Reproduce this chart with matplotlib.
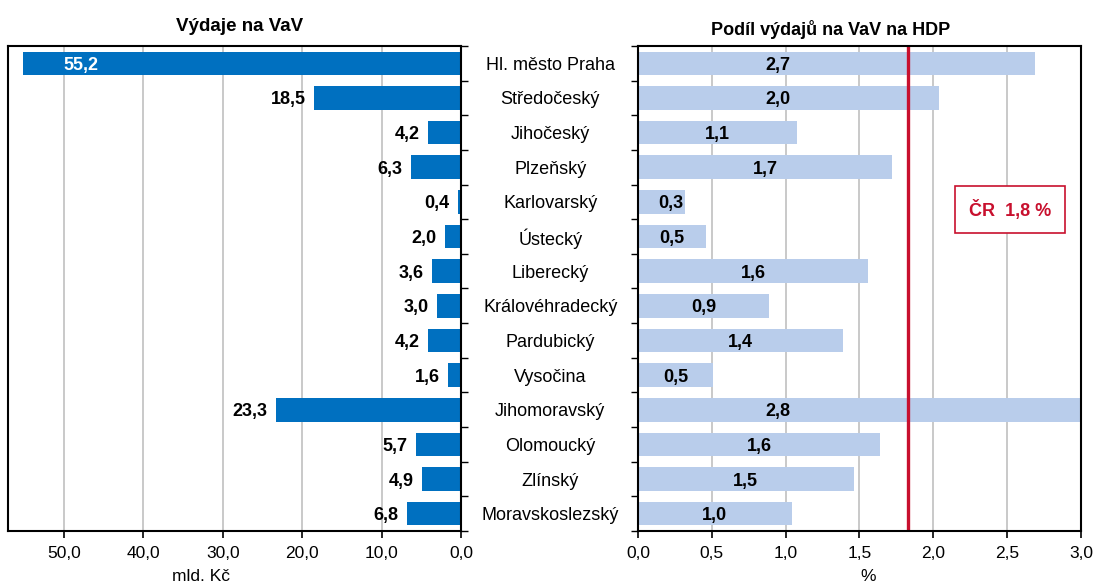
import numpy as np
import matplotlib.pyplot as plt

plt.rcParams['font.family'] = ['Liberation Sans', 'DejaVu Sans']

kraje = ['Hl. město Praha', 'Středočeský', 'Jihočeský', 'Plzeňský', 'Karlovarský',
         'Ústecký', 'Liberecký', 'Královéhradecký', 'Pardubický', 'Vysočina',
         'Jihomoravský', 'Olomoucký', 'Zlínský', 'Moravskoslezský']
vydaje = [55.2, 18.5, 4.2, 6.3, 0.4, 2.0, 3.6, 3.0, 4.2, 1.6, 23.3, 5.7, 4.9, 6.8]
podil = [2.69, 2.04, 1.08, 1.72, 0.32, 0.46, 1.56, 0.89, 1.39, 0.51, 2.99, 1.64, 1.46, 1.04]
podil_popisky = ['2,7', '2,0', '1,1', '1,7', '0,3', '0,5', '1,6', '0,9', '1,4', '0,5',
                 '2,8', '1,6', '1,5', '1,0']
cr_podil = 1.83

modra = '#0070C0'
svetla = '#B9CDEB'
cervena = '#C8102E'

fig = plt.figure(figsize=(10.96, 5.84), dpi=100)
ax1 = fig.add_axes([0.0073, 0.0908, 0.4133, 0.8304])
ax2 = fig.add_axes([0.5821, 0.0908, 0.4042, 0.8304])

y = np.arange(len(kraje))

# levy graf
ax1.barh(y, vydaje, height=0.68, color=modra, zorder=3)
ax1.set_xlim(57.05, 0)
ax1.set_ylim(len(kraje) - 0.5, -0.5)
ax1.set_xticks(np.arange(0, 51, 10))
ax1.set_xticklabels([f'{v:.1f}'.replace('.', ',') for v in np.arange(0, 51, 10)])
ax1.grid(axis='x', color='#c0c0c0', linewidth=1.2, zorder=0)
ax1.yaxis.tick_right()
ax1.set_yticks(np.arange(-0.5, len(kraje)), minor=False)
ax1.set_yticklabels([])
ax1.tick_params(axis='y', direction='out', length=5, width=1)
ax1.tick_params(axis='x', direction='out', length=5, width=1.2, labelsize=12.5, pad=6)
for i, v in enumerate(vydaje):
    txt = f'{v:.1f}'.replace('.', ',')
    if i == 0:
        ax1.annotate(txt, (v, i), xytext=(29, 0), textcoords='offset points',
                     ha='left', va='center_baseline', color='white', fontsize=13, fontweight='bold')
    else:
        ax1.annotate(txt, (v, i), xytext=(-6, 0), textcoords='offset points',
                     ha='right', va='center_baseline', color='black', fontsize=13, fontweight='bold')

# pravy graf
ax2.barh(y, podil, height=0.68, color=svetla, zorder=3)
ax2.set_xlim(0, 3.0)
ax2.set_ylim(len(kraje) - 0.5, -0.5)
ax2.set_xticks(np.arange(0, 3.01, 0.5))
ax2.set_xticklabels([f'{v:.1f}'.replace('.', ',') for v in np.arange(0, 3.01, 0.5)])
ax2.grid(axis='x', color='#c0c0c0', linewidth=1.2, zorder=0)
ax2.set_yticks(np.arange(-0.5, len(kraje)))
ax2.set_yticklabels([])
ax2.tick_params(axis='y', direction='out', length=5, width=1)
ax2.tick_params(axis='x', direction='out', length=5, width=1.2, labelsize=12.5, pad=6)
for i, v in enumerate(podil):
    xpos = max(0.22, min(v / 2, 0.95))
    ax2.text(xpos, i, podil_popisky[i], ha='center', va='center_baseline', fontsize=13,
             fontweight='bold', zorder=5)
ax2.axvline(cr_podil, color=cervena, linewidth=2.4, zorder=4)
ax2.text(0.84, 0.662, 'ČR  1,8 %', transform=ax2.transAxes, ha='center', va='center',
         color=cervena, fontsize=13, fontweight='bold', zorder=6,
         bbox=dict(boxstyle='square,pad=0.75', facecolor='white', edgecolor=cervena, linewidth=1.2))

for ax in (ax1, ax2):
    for s in ax.spines.values():
        s.set_linewidth(1.5)
        s.set_zorder(6)

# nazvy kraju mezi grafy
for i, k in enumerate(kraje):
    yy = ax1.transData.transform((0, i))[1]
    yf = fig.transFigure.inverted().transform((0, yy))[1]
    fig.text(0.502, yf, k, ha='center', va='center_baseline', fontsize=13)

fig.text(0.219, 0.955, 'Výdaje na VaV', ha='center', va='center', fontsize=13.5, fontweight='bold')
fig.text(0.758, 0.950, 'Podíl výdajů na VaV na HDP', ha='center', va='center',
         fontsize=13, fontweight='bold')
fig.text(0.183, 0.012, 'mld. Kč', ha='center', va='center', fontsize=12.5)
fig.text(0.792, 0.012, '%', ha='center', va='center', fontsize=12.5)

fig.savefig('out.png', dpi=100)
